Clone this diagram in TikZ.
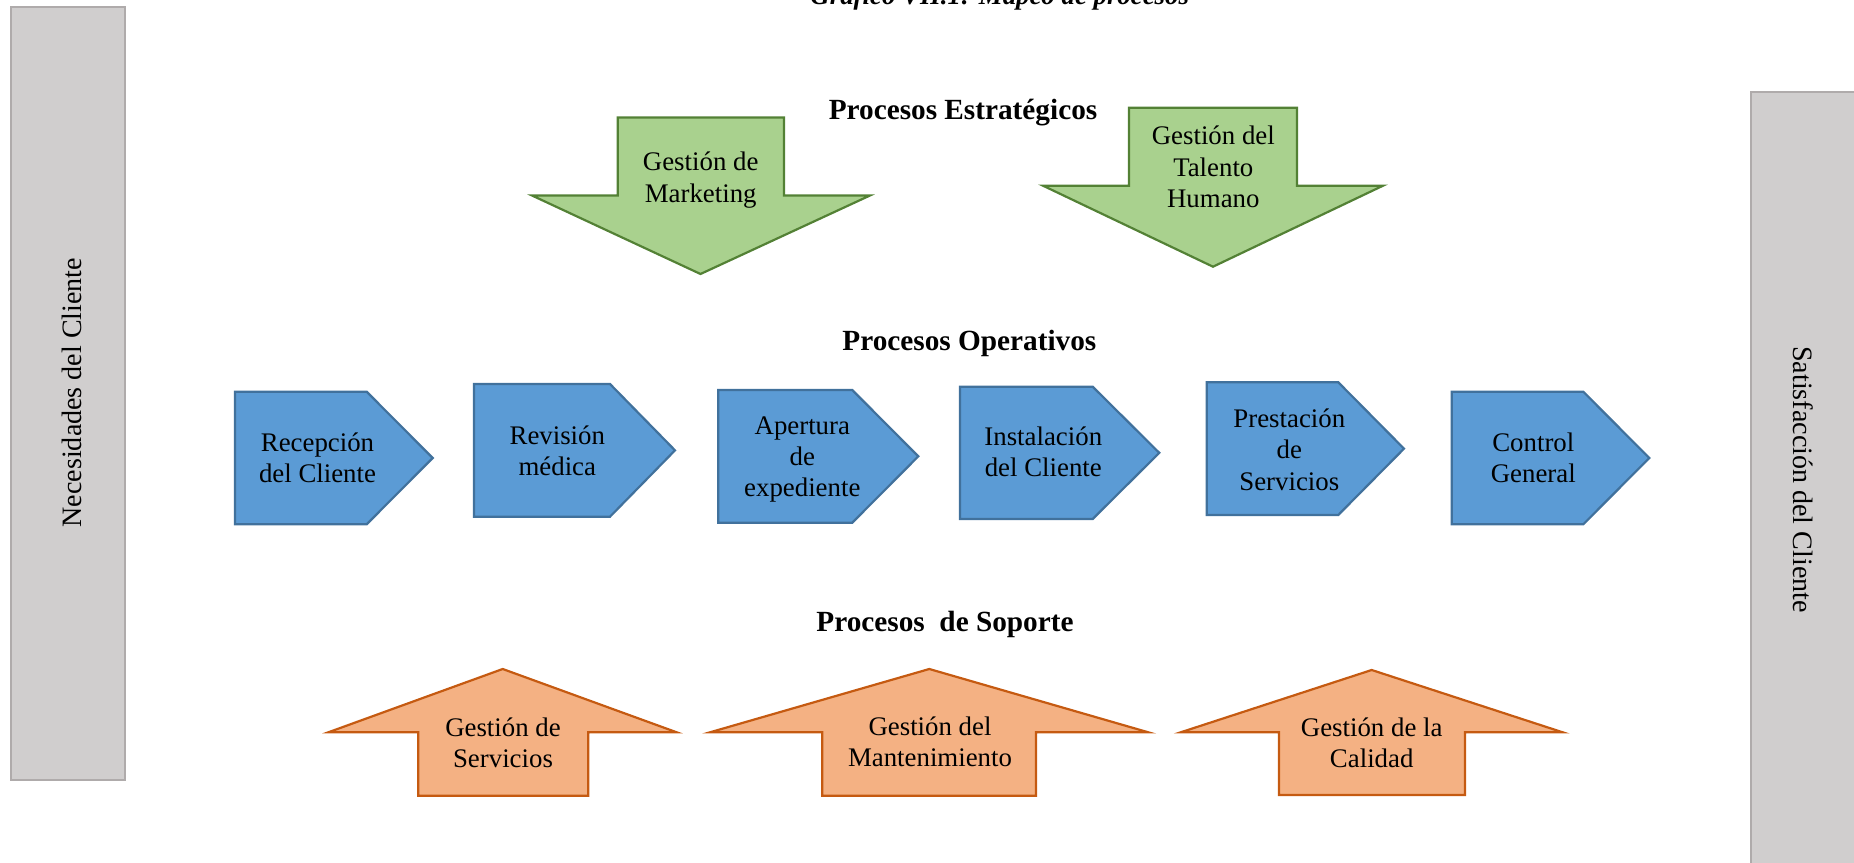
\documentclass[tikz,border=0pt]{standalone}
\usepackage{fontspec}
\setmainfont{Liberation Serif}
\definecolor{greenfill}{HTML}{A9D18E}
\definecolor{greenline}{HTML}{538135}
\definecolor{bluefill}{HTML}{5B9BD5}
\definecolor{blueline}{HTML}{41719C}
\definecolor{orangefill}{HTML}{F4B183}
\definecolor{orangeline}{HTML}{C55A11}
\definecolor{greyfill}{HTML}{D0CECE}
\definecolor{greyline}{HTML}{AFABAB}

% pentagon process step: left, top, bottom, shoulder x, tip x
\newcommand\procstep[5]{%
  \draw[stepshape] (#1,#2) -- (#4,#2) -- (#5,{(#2+#3)/2}) -- (#4,#3) -- (#1,#3) -- cycle;}
% downward block arrow: shaft left, shaft right, top, head y, head left, head right, tip x, tip y
\newcommand\stratarrow[8]{%
  \draw[stratshape] (#1,#3) -- (#2,#3) -- (#2,#4) -- (#6,#4) -- (#7,#8) -- (#5,#4) -- (#1,#4) -- cycle;}
% upward block arrow: shaft left, shaft right, bottom, head y, head left, head right, tip x, tip y
\newcommand\supportarrow[8]{%
  \draw[supshape] (#1,#3) -- (#2,#3) -- (#2,#4) -- (#6,#4) -- (#7,#8) -- (#5,#4) -- (#1,#4) -- cycle;}
\newcommand\lines[1]{\begin{tabular}[t]{@{}c@{}}#1\end{tabular}}

\begin{document}
\begin{tikzpicture}[x=0.41pt,y=-0.41pt,
  stepshape/.style={fill=bluefill,draw=blueline,line width=0.9pt,line join=miter},
  stratshape/.style={fill=greenfill,draw=greenline,line width=0.9pt,line join=miter},
  supshape/.style={fill=orangefill,draw=orangeline,line width=0.9pt,line join=miter},
  sidebar/.style={fill=greyfill,draw=greyline,line width=0.9pt},
  lbl/.style={font=\fontsize{11}{12.9}\selectfont,inner sep=0pt,anchor=base},
  sidelbl/.style={font=\fontsize{11.5}{13.5}\selectfont,inner sep=0pt},
  heading/.style={font=\fontsize{12}{14}\selectfont\bfseries,inner sep=0pt,anchor=base west},
]
\useasboundingbox (0,0) rectangle (1854,863);
\clip (0,0) rectangle (1854,863);

% caption at the top edge
\node[font=\fontsize{11}{13}\selectfont\bfseries\itshape,inner sep=0pt,anchor=base west] (caption) at (810,5) {Gráfico VII.1: Mapeo de procesos};

% side bars
\draw[sidebar] (10.6,7) rectangle (125.3,780);
\node[sidelbl,rotate=90] (needs) at (72,392.6) {Necesidades del Cliente};
\draw[sidebar] (1751,92.2) rectangle (1866,875);
\node[sidelbl,rotate=-90] (satisf) at (1803,479.5) {Satisfacción del Cliente};

% strategic processes
\node[heading] (hstrat) at (828.3,120) {Procesos Estratégicos};
\stratarrow{617.7}{784}{117.5}{195.5}{532}{870}{700.5}{274}
\node[lbl] (marketing) at (700.7,170.7) {\lines{Gestión de\\Marketing}};
\stratarrow{1129}{1297}{107.7}{185.7}{1043}{1383}{1213}{266.7}
\node[lbl] (talento) at (1213.3,145) {\lines{Gestión del\\Talento\\Humano}};

% operative processes
\node[heading] (hoper) at (842,351) {Procesos Operativos};
\procstep{235}{391.7}{524.3}{366.7}{432.7}
\node[lbl] (recepcion) at (317.5,451) {\lines{Recepción\\del Cliente}};
\procstep{474}{384}{516.7}{610}{675}
\node[lbl] (revision) at (557.3,444) {\lines{Revisión\\médica}};
\procstep{718.3}{390}{522.7}{852.3}{918.3}
\node[lbl] (apertura) at (802.3,434) {\lines{Apertura\\de\\expediente}};
\procstep{960}{386.7}{519}{1092.7}{1159.3}
\node[lbl] (instalacion) at (1043.3,445) {\lines{Instalación\\del Cliente}};
\procstep{1206.7}{382.3}{515}{1338.3}{1404}
\node[lbl] (prestacion) at (1289.3,427.3) {\lines{Prestación\\de\\Servicios}};
\procstep{1451.7}{391.7}{524.3}{1583.3}{1649.3}
\node[lbl] (control) at (1533.3,451) {\lines{Control\\General}};

% support processes
\node[heading] (hsup) at (816,631) {Procesos\ \ de Soporte};
\supportarrow{418.3}{588.3}{795.7}{732.3}{328.3}{676.7}{502.7}{669}
\node[lbl] (servicios) at (503,736) {\lines{Gestión de\\Servicios}};
\supportarrow{822.3}{1036}{795.7}{732.3}{710}{1148.3}{929.3}{669}
\node[lbl] (manten) at (930,735) {\lines{Gestión del\\Mantenimiento}};
\supportarrow{1279}{1465}{795}{732.3}{1180.7}{1562.7}{1371.7}{670}
\node[lbl] (calidad) at (1371.7,736) {\lines{Gestión de la\\Calidad}};
\end{tikzpicture}
\end{document}
